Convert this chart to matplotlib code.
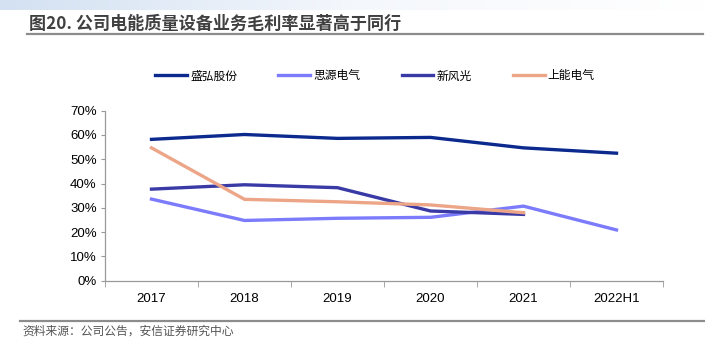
import numpy as np
import matplotlib.pyplot as plt
from matplotlib.lines import Line2D
from matplotlib.colors import LinearSegmentedColormap

plt.rcParams['font.family'] = ['Liberation Sans', 'Noto Sans CJK SC', 'DejaVu Sans']

# data
years = ['2017', '2018', '2019', '2020', '2021', '2022H1']
shenghong = [58.2, 60.2, 58.6, 59.0, 54.7, 52.5]
siyuan = [33.6, 24.8, 25.7, 26.1, 30.7, 20.9]
xinfengguang = [37.7, 39.5, 38.3, 28.7, 27.3]
shangneng = [54.7, 33.5, 32.5, 31.2, 28.0]

names = ['盛弘股份', '思源电气', '新风光', '上能电气']
colors = ['#0c2a8e', '#7b7bfb', '#3a3aa6', '#eda588']

fig = plt.figure(figsize=(7.05, 3.57), dpi=100)

# top gradient band
band = fig.add_axes([0, 1 - 10 / 357, 1, 10 / 357])
grad = np.linspace(0, 1, 256).reshape(1, -1)
cm = LinearSegmentedColormap.from_list('b', ['#d3e1f2', '#f4f7fc', '#ffffff'])
band.imshow(grad, aspect='auto', cmap=cm)
band.axis('off')

fig.text(29 / 705, 1 - 24 / 357, '图20. 公司电能质量设备业务毛利率显著高于同行',
         fontsize=12.3, fontweight='bold', color='#404040', va='center', ha='left',
         family=['Noto Sans CJK SC', 'DejaVu Sans'])
fig.add_artist(Line2D([27 / 705, 703 / 705], [1 - 33.5 / 357, 1 - 33.5 / 357],
                      color='#8c8c8c', lw=1.6, transform=fig.transFigure))
fig.add_artist(Line2D([20 / 705, 1], [1 - 321 / 357, 1 - 321 / 357],
                      color='#8c8c8c', lw=1.6, transform=fig.transFigure))
fig.text(22 / 705, 1 - 331 / 357, '资料来源：公司公告，安信证券研究中心',
         fontsize=8.5, style='italic', color='#555555', va='center', ha='left',
         family=['Noto Sans CJK SC', 'DejaVu Sans'])

ax = fig.add_axes([105 / 705, (357 - 280.7) / 357, (663 - 105) / 705, (280.7 - 110.7) / 357])
x = np.arange(len(years))
series = [shenghong, siyuan, xinfengguang, shangneng]
handles = []
for name, vals, c in zip(names, series, colors):
    h, = ax.plot(x[:len(vals)], vals, color=c, lw=2.4, label=name)
    handles.append(h)

ax.set_xlim(-0.5, len(years) - 0.5)
ax.set_ylim(0, 70)
ax.set_yticks(np.arange(0, 71, 10))
ax.set_yticklabels([f'{v}%' for v in range(0, 71, 10)])
ax.set_xticks(x)
ax.set_xticklabels(years)
ax.set_xticks(np.arange(-0.5, len(years), 1), minor=True)
ax.tick_params(axis='x', which='major', length=0, pad=9, labelsize=9.5, colors='black')
ax.tick_params(axis='x', which='minor', length=4, color='#999999')
ax.tick_params(axis='y', length=3, color='#999999', labelsize=9.5, pad=3)
for s in ['top', 'right']:
    ax.spines[s].set_visible(False)
for s in ['left', 'bottom']:
    ax.spines[s].set_color('#999999')
    ax.spines[s].set_linewidth(0.9)

fig.legend(handles=handles, loc='center', bbox_to_anchor=(375 / 705, 1 - 76 / 357), ncol=4,
           frameon=False, handlelength=2.7, handletextpad=0.25,
           columnspacing=3.5, prop={'family': ['Noto Sans CJK SC', 'DejaVu Sans'], 'size': 8.5})

fig.savefig('out.png', dpi=100)
